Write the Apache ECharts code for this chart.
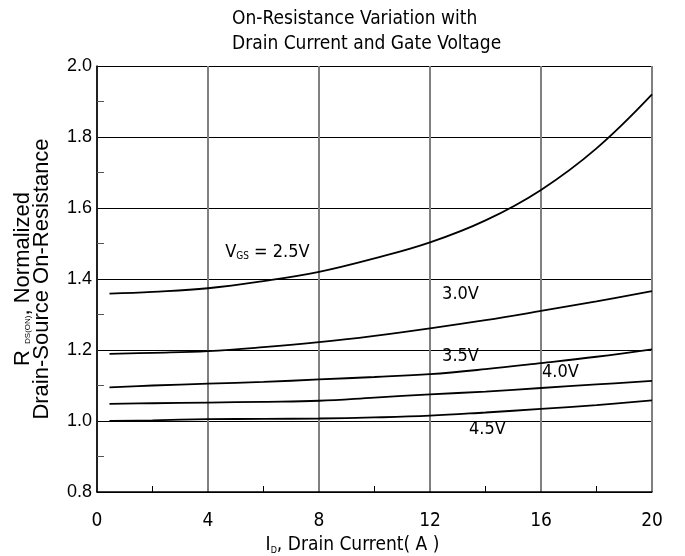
<!DOCTYPE html>
<html><head><meta charset="utf-8">
<script src="https://cdn.jsdelivr.net/npm/echarts@6/dist/echarts.min.js"></script>
<style>html,body{margin:0;padding:0;background:#fff}#c{width:685px;height:556px}</style>
</head><body><div id="c"></div>
<script>
const currents = [0.45, 2, 4, 6, 8, 10, 12, 14, 16, 18, 20];
const v25 = [1.359, 1.364, 1.374, 1.394, 1.420, 1.458, 1.503, 1.565, 1.651, 1.768, 1.920];
const v30 = [1.189, 1.192, 1.197, 1.208, 1.222, 1.240, 1.261, 1.284, 1.310, 1.337, 1.366];
const v35 = [1.095, 1.100, 1.105, 1.110, 1.117, 1.124, 1.132, 1.146, 1.163, 1.181, 1.202];
const v40 = [1.048, 1.050, 1.052, 1.054, 1.057, 1.066, 1.075, 1.083, 1.093, 1.103, 1.113];
const v45 = [1.000, 1.002, 1.005, 1.006, 1.007, 1.010, 1.015, 1.024, 1.034, 1.045, 1.058];
const xTicks = [0, 4, 8, 12, 16, 20];
const yTicks = [0.8, 1.0, 1.2, 1.4, 1.6, 1.8, 2.0];
const curveLabels = ['{v|V}{s|GS}{v| = 2.5V}', '3.0V', '3.5V', '4.0V', '4.5V'];
const labelPos = [[6.14, 1.474], [13.1, 1.357], [13.1, 1.181], [16.7, 1.138], [14.07, 0.977]];

const COND = '"DejaVu Sans Condensed", "Liberation Sans Narrow", sans-serif';
const ARIAL = '"Liberation Sans", Arial, sans-serif';
const allSeries = [v25, v30, v35, v40, v45];

const chart = echarts.init(document.getElementById('c'), null, {renderer: 'canvas'});
chart.setOption({
  animation: false,
  backgroundColor: '#fff',
  title: {
    text: 'On-Resistance Variation with\nDrain Current and Gate Voltage',
    left: 227, top: 2, textAlign: 'left',
    textStyle: {fontFamily: COND, fontSize: 19, fontWeight: 'normal', color: '#000', lineHeight: 25}
  },
  grid: {left: 97, right: 33, top: 66, bottom: 64, containLabel: false, outerBoundsMode: 'none'},
  xAxis: {
    type: 'value', min: 0, max: 20, interval: 4,
    axisLine: {lineStyle: {color: '#000', width: 1.5}},
    axisTick: {show: false, inside: true},
    minorTick: {show: true, splitNumber: 2, length: 6, lineStyle: {color: '#000', width: 1}},
    axisLabel: {fontFamily: COND, fontSize: 19, color: '#000', margin: 20,
      formatter: v => xTicks.includes(v) ? String(v) : ''},
    splitLine: {show: true, lineStyle: {color: '#808080', width: 2}},
    name: '{v|I}{s|D}{v|, Drain Current( A )}',
    nameLocation: 'middle', nameGap: 38,
    nameTextStyle: {padding: [0, 44, 0, 0], rich: {
      v: {fontFamily: COND, fontSize: 19, color: '#000'},
      s: {fontFamily: COND, fontSize: 9, color: '#000', verticalAlign: 'bottom', padding: [7, 0, 0, 0]}
    }}
  },
  yAxis: {
    type: 'value', min: 0.8, max: 2.0, interval: 0.2,
    axisLine: {show: true, lineStyle: {color: '#000', width: 1.5}},
    axisTick: {show: false, inside: true},
    minorTick: {show: true, splitNumber: 2, length: 7, lineStyle: {color: '#555', width: 1}},
    axisLabel: {fontFamily: ARIAL, fontSize: 18, color: '#000', margin: 5,
      formatter: v => v.toFixed(1)},
    splitLine: {show: true, lineStyle: {color: '#000', width: 1.2}},
    name: '{v|R }{s|DS(ON)}{v|, Normalized}\n{v|Drain-Source On-Resistance}',
    nameLocation: 'middle', nameGap: 46, nameRotate: 90,
    nameTextStyle: {align: 'center', rich: {
      v: {fontFamily: ARIAL, fontSize: 22, color: '#000', lineHeight: 19},
      s: {fontFamily: ARIAL, fontSize: 8, color: '#000', lineHeight: 19, verticalAlign: 'bottom'}
    }}
  },
  series: allSeries.map((arr, i) => ({
    type: 'line', smooth: 0.4, symbol: 'none',
    data: currents.map((x, j) => [x, arr[j]]),
    lineStyle: {color: '#000', width: 1.8},
    z: 5,
    markPoint: {
      symbol: 'circle', symbolSize: 0,
      data: [{coord: labelPos[i]}],
      label: {show: true, position: 'inside', formatter: curveLabels[i],
        fontFamily: COND, fontSize: 18, color: '#000',
        rich: {
          v: {fontFamily: COND, fontSize: 18, color: '#000'},
          s: {fontFamily: COND, fontSize: 10, color: '#000', verticalAlign: 'bottom', padding: [6, 0, 0, 0]}
        }}
    }
  }))
});
</script></body></html>
